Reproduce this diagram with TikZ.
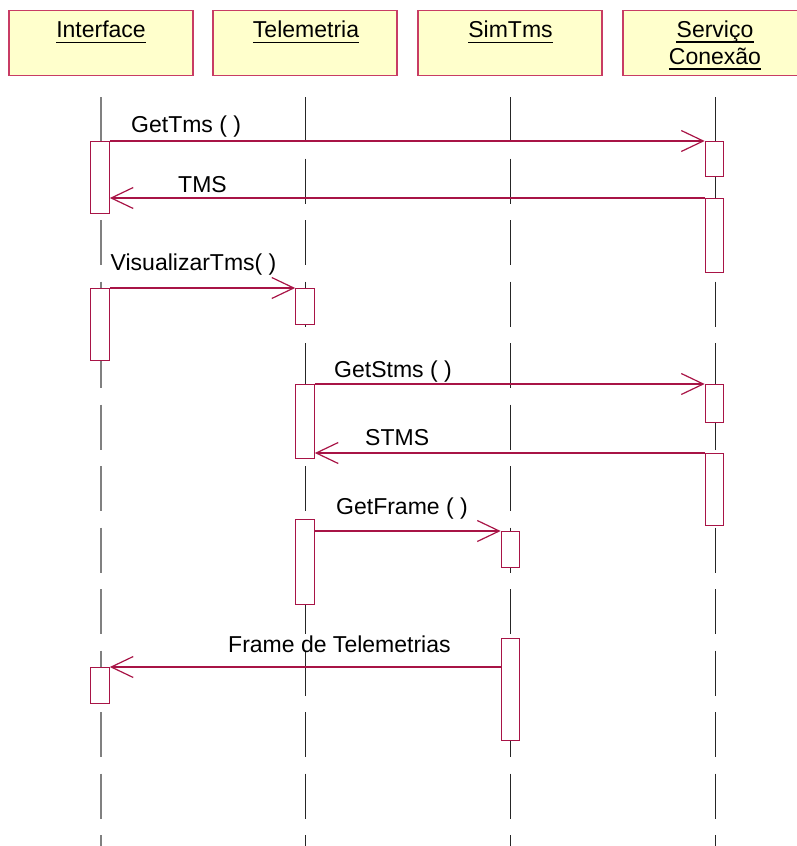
\documentclass[tikz,border=0pt]{standalone}
\usepackage{fontspec}
\setmainfont{Liberation Sans}
\usetikzlibrary{arrows.meta}
\definecolor{umlred}{RGB}{168,20,70}
\definecolor{boxred}{RGB}{200,60,100}
\definecolor{boxfill}{RGB}{255,255,204}
\begin{document}
\begin{tikzpicture}[x=1pt,y=-1pt,
 objbox/.style={draw=boxred, fill=boxfill, line width=1.2pt, minimum width=184pt, minimum height=65pt, inner sep=0pt, anchor=north},
 objname/.style={font=\fontsize{23}{27}\selectfont, inner sep=0pt, anchor=base},
 ul/.style={line width=1.3pt, black},
 life/.style={dash pattern=on 45pt off 16.5pt, line width=1pt, black!85},
 lifegray/.style={life, line width=1.5pt, black!50},
 act/.style={draw=umlred, fill=white, line width=1.2pt, minimum width=18.5pt, inner sep=0pt, anchor=north},
 msg/.style={draw=umlred, line width=1.2pt, -{Straight Barb[length=22pt,width=21pt]}},
 lbl/.style={font=\fontsize{23}{27}\selectfont, inner sep=0pt, anchor=base west},
]
\useasboundingbox (0,0) rectangle (796,846);

% object boxes
\node[objbox] (bI) at (101,10) {};
\node[objbox] (bT) at (305,10) {};
\node[objbox] (bS) at (510,10) {};
\node[objbox] (bC) at (715,10) {};

\node[objname] (nI) at (101,37.7) {Interface};
\node[objname] (nT) at (306,37.7) {Telemetria};
\node[objname] (nS) at (510.5,37.7) {SimTms};
\node[objname] (nC1) at (715,37.5) {Serviço};
\node[objname] (nC2) at (715,64.5) {Conexão};
\foreach \n in {nI,nT,nS,nC1,nC2}
  \draw[ul] ([yshift=-4.5pt]\n.base west) -- ([yshift=-4.5pt]\n.base east);

% lifelines
\coordinate (lIa) at (101,97);   \coordinate (lIb) at (101,846);
\coordinate (lTa) at (305.5,97); \coordinate (lTb) at (305.5,846);
\coordinate (lSa) at (510.5,97); \coordinate (lSb) at (510.5,846);
\coordinate (lCa) at (715,97);   \coordinate (lCb) at (715,846);
\draw[lifegray] (lIa) -- (lIb);
\draw[life] (lTa) -- (lTb);
\draw[life] (lSa) -- (lSb);
\draw[life] (lCa) -- (lCb);

% activations
\node[act, minimum height=72pt] (i1) at (100,141) {};
\node[act, minimum height=72pt] (i2) at (100,288) {};
\node[act, minimum height=36pt] (i3) at (100,667) {};

\node[act, minimum height=36pt] (t1) at (305,288) {};
\node[act, minimum height=74pt] (t2) at (305,384) {};
\node[act, minimum height=85pt] (t3) at (305,519) {};

\node[act, minimum height=36pt] (m1) at (510.5,531) {};
\node[act, minimum height=102pt] (m2) at (510.5,638) {};

\node[act, minimum height=35pt] (s1) at (714.5,141) {};
\node[act, minimum height=74pt] (s2) at (714.5,198) {};
\node[act, minimum height=38pt] (s3) at (714.5,384) {};
\node[act, minimum height=72pt] (s4) at (714.5,453) {};

% messages
\draw[msg] (i1.north east) -- (s1.north west);
\draw[msg] (s2.north west) -- (i1.east |- s2.north);
\draw[msg] (i2.north east) -- (t1.north west);
\draw[msg] (t2.north east) -- (s3.north west);
\draw[msg] (s4.north west) -- (t2.east |- s4.north);
\draw[msg] (t3.east |- m1.north) -- (m1.north west);
\draw[msg] (m2.west |- i3.north) -- (i3.north east);

% labels
\node[lbl] (l1) at (131,132) {GetTms ( )};
\node[lbl] (l2) at (178,192) {TMS};
\node[lbl] (l3) at (110.5,270) {VisualizarTms( )};
\node[lbl] (l4) at (334,377) {GetStms ( )};
\node[lbl] (l5) at (365,445) {STMS};
\node[lbl] (l6) at (336,514) {GetFrame ( )};
\node[lbl] (l7) at (228,652) {Frame de Telemetrias};
\end{tikzpicture}
\end{document}
